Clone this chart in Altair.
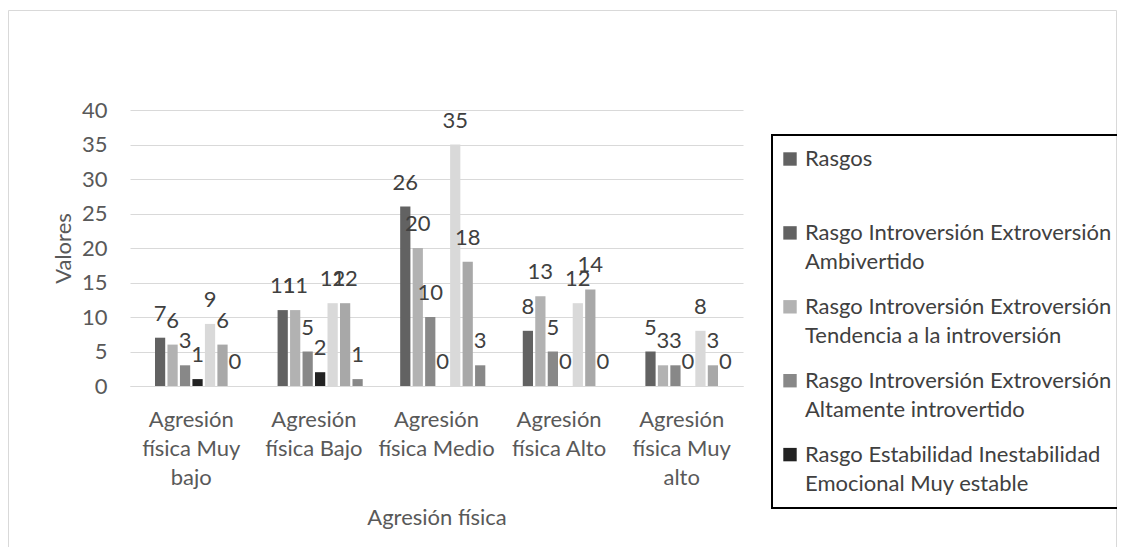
import json
import altair as alt
import pandas as pd

# ---------------- data ----------------
categories = [
    "Agresión física Muy bajo",
    "Agresión física Bajo",
    "Agresión física Medio",
    "Agresión física Alto",
    "Agresión física Muy alto",
]
category_lines = [
    ["Agresión", "física Muy", "bajo"],
    ["Agresión", "física Bajo"],
    ["Agresión", "física Medio"],
    ["Agresión", "física Alto"],
    ["Agresión", "física Muy", "alto"],
]

series_names = [
    "Rasgos",
    "Serie 2",
    "Rasgo Introversión Extroversión Ambivertido",
    "Rasgo Introversión Extroversión Tendencia a la introversión",
    "Rasgo Introversión Extroversión Altamente introvertido",
    "Rasgo Estabilidad Inestabilidad Emocional Muy estable",
    "Serie 7",
    "Serie 8",
    "Serie 9",
    "Serie 10",
]
series_colors = ["#626262", "#626262", "#626262", "#b2b2b2", "#888888", "#222222",
                 "#d9d9d9", "#a8a8a8", "#888888", "#a8a8a8"]

legend_names = [series_names[i] for i in (0, 2, 3, 4, 5)]
legend_lines = [
    ["Rasgos", ""],
    ["Rasgo Introversión Extroversión", "Ambivertido"],
    ["Rasgo Introversión Extroversión", "Tendencia a la introversión"],
    ["Rasgo Introversión Extroversión", "Altamente introvertido"],
    ["Rasgo Estabilidad Inestabilidad", "Emocional Muy estable"],
]

y_ticks = [0, 5, 10, 15, 20, 25, 30, 35, 40]

ambivertido = [7, 11, 26, 8, 5]
tendencia = [6, 11, 20, 13, 3]
altamente = [3, 5, 10, 5, 3]
muy_estable = [1, 2, 0, 0, 0]
serie7 = [9, 12, 35, 12, 8]
serie8 = [6, 12, 18, 14, 3]
serie9 = [0, 1, 3, 0, 0]

series_values = {
    series_names[2]: ambivertido,
    series_names[3]: tendencia,
    series_names[4]: altamente,
    series_names[5]: muy_estable,
    series_names[6]: serie7,
    series_names[7]: serie8,
    series_names[8]: serie9,
}

rows = []
for s, vals in series_values.items():
    for c, v in zip(categories, vals):
        rows.append({"categoria": c, "serie": s, "valor": v})
df = pd.DataFrame(rows)

# ---------------- label expressions ----------------
def ternary(field, keys, outs):
    parts = []
    for k, o in zip(keys, outs):
        parts.append(f"{field} == {json.dumps(k, ensure_ascii=False)} ? {json.dumps(o, ensure_ascii=False)}")
    return " : ".join(parts) + f" : {field}"

x_label_expr = ternary("datum.value", categories, category_lines)
legend_label_expr = ternary("datum.label", legend_names, legend_lines)

FONT = "Lato"
FS = 22
AXIS_GRAY = "#595959"
GRID = "#d9d9d9"

x_enc = alt.X(
    "categoria:N",
    sort=categories,
    scale=alt.Scale(domain=categories, paddingInner=0, paddingOuter=0),
    axis=alt.Axis(
        title="Agresión física",
        labelExpr=x_label_expr,
        labelAngle=0,
        labelPadding=23,
        labelLineHeight=29,
        labelFontSize=FS,
        labelColor=AXIS_GRAY,
        labelLimit=400,
        ticks=False,
        domainColor=GRID,
        domainWidth=1,
        grid=False,
        titleFontSize=FS,
        titleFontWeight="normal",
        titleColor=AXIS_GRAY,
        titleY=138,
        titleBaseline="alphabetic",
    ),
)
xoff_enc = alt.XOffset(
    "serie:N",
    scale=alt.Scale(domain=series_names, paddingInner=0.18, paddingOuter=0),
)
y_enc = alt.Y(
    "valor:Q",
    scale=alt.Scale(domain=[0, 40], nice=False),
    axis=alt.Axis(
        title="Valores",
        values=y_ticks,
        tickCount=9,
        labelOverlap=False,
        labelPadding=23,
        labelFontSize=FS,
        labelColor=AXIS_GRAY,
        ticks=False,
        domain=False,
        grid=True,
        gridColor=GRID,
        gridWidth=1,
        titleFontSize=FS,
        titleFontWeight="normal",
        titleColor=AXIS_GRAY,
        titleX=-60,
        titleY=138,
        titleAlign="center",
        titleBaseline="alphabetic",
    ),
)

frame = alt.Chart(pd.DataFrame({"k": [0]})).mark_rect(
    fillOpacity=0, stroke="#d9d9d9", strokeWidth=1
).encode(
    x=alt.value(-121.5), x2=alt.value(986.5), y=alt.value(-99.5), y2=alt.value(442)
)

bars = alt.Chart(df).mark_bar().encode(
    x=x_enc,
    xOffset=xoff_enc,
    y=y_enc,
    color=alt.Color(
        "serie:N",
        scale=alt.Scale(domain=series_names, range=series_colors),
        legend=alt.Legend(
            values=legend_names,
            title=None,
            orient="none",
            legendX=642,
            legendY=25,
            symbolType="square",
            symbolSize=180,
            symbolStrokeWidth=0,
            symbolOffset=-6,
            labelFont=FONT,
            labelFontSize=FS,
            labelColor="#404040",
            labelLimit=600,
            labelOffset=4,
            labelBaseline="middle",
            labelExpr=legend_label_expr,
            rowPadding=22.9,
            padding=13,
            strokeColor="black",
        ),
    ),
)

labels = alt.Chart(df).mark_text(
    baseline="alphabetic", dy=-17, fontSize=FS, font=FONT, color="#404040"
).encode(
    x=x_enc,
    xOffset=xoff_enc,
    y=y_enc,
    text=alt.Text("valor:Q"),
)

chart = (
    alt.layer(frame, bars, labels)
    .properties(
        width=613,
        height=276,
        autosize=alt.AutoSizeParams(type="none"),
        padding={"left": 122, "top": 102, "right": 374, "bottom": 161},
    )
    .configure(font=FONT, background="white", style={"guide-label": {"lineHeight": 29}})
    .configure_view(stroke=None)
    .configure_legend(strokeWidth=2)
)

chart.save("out.html", embed_options={"renderer": "svg", "actions": False})
